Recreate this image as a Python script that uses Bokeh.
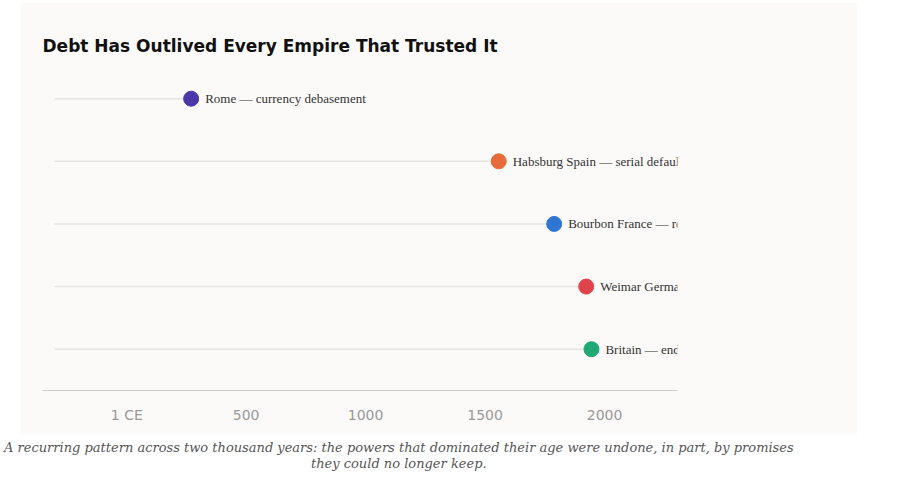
from bokeh.plotting import figure
from bokeh.models import ColumnDataSource, Div, FixedTicker, Range1d, LabelSet
from bokeh.layouts import column
from bokeh.embed import file_html
from bokeh.resources import INLINE

labels = ["Rome — currency debasement", "Habsburg Spain — serial defaults",
          "Bourbon France — road to Revolution", "Weimar Germany — hyperinflation",
          "Britain — end of empire & sterling"]
years = [270, 1557, 1789, 1923, 1945]
rows = [5, 4, 3, 2, 1]
colors = ["#4b37a8", "#e8693a", "#2f76d2", "#e0434a", "#1fa774"]
tick_vals = [1, 500, 1000, 1500, 2000]
tick_text = {1: "1 CE", 500: "500", 1000: "1000", 1500: "1500", 2000: "2000"}

BG = "#fbfaf8"
x_lo, x_hi = -352, 2305
line_start = x_lo + 50

p = figure(width=837, height=432, output_backend="svg", toolbar_location=None,
           x_range=Range1d(x_lo, x_hi), y_range=Range1d(0.34, 5.61),
           min_border_left=22, min_border_right=180, min_border_top=58, min_border_bottom=44)
p.margin = (2, 0, 0, 20)
p.background_fill_color = BG
p.border_fill_color = BG
p.outline_line_color = None
p.title.text = "Debt Has Outlived Every Empire That Trusted It"
p.title.text_font = "DejaVu Sans"
p.title.text_font_size = "17px"
p.title.text_font_style = "bold"
p.title.text_color = "#111111"
p.title.offset = 0

src = ColumnDataSource(dict(x=years, y=rows, c=colors, t=labels, x0=[line_start]*len(years)))
p.segment(x0="x0", y0="y", x1="x", y1="y", source=src, line_color="#e6e4e0", line_width=1.5)
p.scatter("x", "y", source=src, size=15, color="c")
lab = LabelSet(x="x", y="y", text="t", source=src, x_offset=14, text_baseline="middle",
               text_font="DejaVu Sans", text_font_size="13px", text_color="#333333", level="overlay")
p.add_layout(lab)

p.yaxis.visible = False
p.ygrid.visible = False
p.xgrid.visible = False
p.xaxis.ticker = FixedTicker(ticks=tick_vals)
p.xaxis.major_label_overrides = tick_text
p.xaxis.major_tick_line_color = None
p.xaxis.minor_tick_line_color = None
p.xaxis.axis_line_color = "#cccccc"
p.xaxis.major_label_text_color = "#999999"
p.xaxis.major_label_text_font = "DejaVu Sans"
p.xaxis.major_label_text_font_size = "14px"
p.xaxis.major_label_standoff = 10

cap = Div(text='<div style="text-align:center;font-family:\'DejaVu Serif\';font-style:italic;'
               'font-size:13px;color:#555;line-height:1.25;">A recurring pattern across two thousand years: '
               'the powers that dominated their age were undone, in part, by promises<br>they could no longer keep.</div>',
          width=870, margin=(6, 0, 0, 4))

layout = column(p, cap)
open("out.html", "w").write(file_html(layout, INLINE))
